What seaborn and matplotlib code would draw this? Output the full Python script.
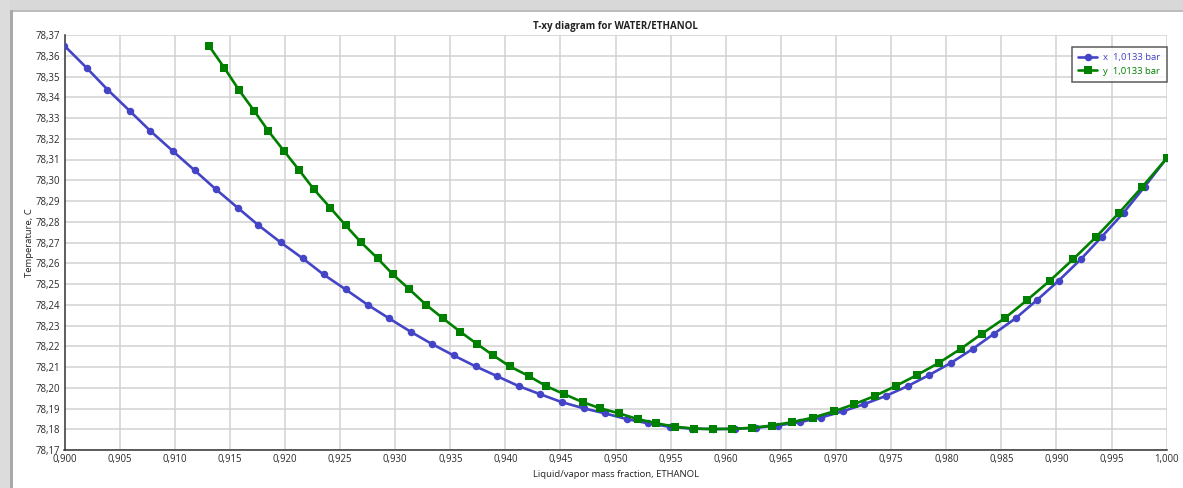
import numpy as np
import pandas as pd
import matplotlib
matplotlib.use("Agg")
import matplotlib.pyplot as plt
from matplotlib.ticker import FuncFormatter, MultipleLocator
from matplotlib.patches import Rectangle
import seaborn as sns

# Liquid mass fraction of ethanol (52 evenly spaced points)
x_liquid = [0.9000, 0.9020, 0.9039, 0.9059, 0.9078, 0.9098, 0.9118, 0.9137, 0.9157, 0.9176,
            0.9196, 0.9216, 0.9235, 0.9255, 0.9275, 0.9294, 0.9314, 0.9333, 0.9353, 0.9373,
            0.9392, 0.9412, 0.9431, 0.9451, 0.9471, 0.9490, 0.9510, 0.9529, 0.9549, 0.9569,
            0.9588, 0.9608, 0.9627, 0.9647, 0.9667, 0.9686, 0.9706, 0.9725, 0.9745, 0.9765,
            0.9784, 0.9804, 0.9824, 0.9843, 0.9863, 0.9882, 0.9902, 0.9922, 0.9941, 0.9961,
            0.9980, 1.0000]

# Vapor mass fraction of ethanol in equilibrium
y_vapor = [0.9131, 0.9145, 0.9158, 0.9172, 0.9185, 0.9199, 0.9213, 0.9226, 0.9241, 0.9255,
           0.9269, 0.9284, 0.9298, 0.9313, 0.9328, 0.9343, 0.9359, 0.9374, 0.9389, 0.9404,
           0.9421, 0.9437, 0.9453, 0.9470, 0.9486, 0.9503, 0.9520, 0.9537, 0.9554, 0.9571,
           0.9588, 0.9606, 0.9624, 0.9642, 0.9660, 0.9679, 0.9698, 0.9716, 0.9735, 0.9754,
           0.9773, 0.9793, 0.9813, 0.9832, 0.9853, 0.9873, 0.9894, 0.9915, 0.9936, 0.9957,
           0.9978, 1.0000]

# Equilibrium temperature, C
temperature = [78.3648, 78.3542, 78.3437, 78.3335, 78.3237, 78.3142, 78.3048, 78.2958, 78.2868, 78.2783,
               78.2701, 78.2624, 78.2546, 78.2474, 78.2400, 78.2336, 78.2270, 78.2212, 78.2156, 78.2103,
               78.2057, 78.2008, 78.1970, 78.1931, 78.1901, 78.1877, 78.1849, 78.1829, 78.1812, 78.1803,
               78.1801, 78.1802, 78.1807, 78.1818, 78.1834, 78.1856, 78.1886, 78.1920, 78.1960, 78.2008,
               78.2060, 78.2119, 78.2187, 78.2259, 78.2335, 78.2421, 78.2516, 78.2619, 78.2727, 78.2844,
               78.2969, 78.3106]

series_labels = ["x  1,0133 bar", "y  1,0133 bar"]

BLUE = "#4444C6"
GREEN = "#008000"

sns.set_style("white")
plt.rcParams["font.family"] = ["Open Sans", "DejaVu Sans"]

W, H = 1183, 488
fig = plt.figure(figsize=(W / 100, H / 100), dpi=100)
fig.patch.set_facecolor("white")

# Window frame around the plot area
fig.patches.append(Rectangle((0, 1 - 10 / H), 1, 10 / H, transform=fig.transFigure,
                             facecolor="#d8d8d8", edgecolor="none", zorder=0))
fig.patches.append(Rectangle((0, 1 - 11.5 / H), 1, 1.5 / H, transform=fig.transFigure,
                             facecolor="#bdbdbd", edgecolor="none", zorder=0))
fig.patches.append(Rectangle((0, 0), 10 / W, 1, transform=fig.transFigure,
                             facecolor="#dcdcdc", edgecolor="none", zorder=0))
fig.patches.append(Rectangle((10 / W, 0), 2.5 / W, 1 - 10 / H, transform=fig.transFigure,
                             facecolor="#a9a9a9", edgecolor="none", zorder=0))

left, right, top, bottom = 64.5, 1166.7, 35, 450
ax = fig.add_axes([left / W, 1 - bottom / H, (right - left) / W, (bottom - top) / H])

liq = pd.DataFrame({"frac": x_liquid, "T": temperature})
vap = pd.DataFrame({"frac": y_vapor, "T": temperature})

sns.lineplot(data=liq, x="frac", y="T", ax=ax, color=BLUE, linewidth=1.9,
             marker="o", markersize=5.4, markeredgecolor=BLUE, markeredgewidth=0,
             sort=False, label=series_labels[0], zorder=3)
sns.lineplot(data=vap, x="frac", y="T", ax=ax, color=GREEN, linewidth=1.9,
             marker="s", markersize=5.4, markeredgecolor=GREEN, markeredgewidth=0,
             sort=False, label=series_labels[1], zorder=4)

ax.set_xlim(0.9, 1.0)
ax.set_ylim(78.17, 78.37)
ax.xaxis.set_major_locator(MultipleLocator(0.005))
ax.yaxis.set_major_locator(MultipleLocator(0.01))
ax.xaxis.set_major_formatter(FuncFormatter(lambda v, p: f"{v:.3f}".replace(".", ",")))
ax.yaxis.set_major_formatter(FuncFormatter(lambda v, p: f"{v:.2f}".replace(".", ",")))

ax.grid(True, color="#d2d2d2", linewidth=1.1, zorder=0)
ax.set_axisbelow(True)
for s in ["top", "right"]:
    ax.spines[s].set_visible(False)
for s in ["left", "bottom"]:
    ax.spines[s].set_color("#333333")
    ax.spines[s].set_linewidth(1.1)

ax.tick_params(axis="x", direction="in", length=4, width=1, color="#333333",
               labelsize=6.9, labelcolor="#2a2a2a", pad=3)
ax.tick_params(axis="y", direction="in", length=2.4, width=1, color="#333333",
               labelsize=6.9, labelcolor="#2a2a2a", pad=3)

ax.set_xlabel("Liquid/vapor mass fraction, ETHANOL", fontsize=6.8, color="#222222")
ax.set_ylabel("Temperature, C", fontsize=6.8, color="#222222")
ax.xaxis.set_label_coords(0.5, -(470 - bottom) / (bottom - top))
ax.xaxis.label.set_va("top")
ax.yaxis.set_label_coords((29 - left) / (right - left), 0.5)
ax.yaxis.label.set_va("center")

ax.set_title("T-xy diagram for WATER/ETHANOL", fontsize=7, fontweight="bold",
             color="#222222", pad=4)

leg = ax.legend(loc="upper right", bbox_to_anchor=(1.0, 1 - 11.7 / (bottom - top)),
                borderaxespad=0, fancybox=False, frameon=True, fontsize=6.8,
                handlelength=2.0, handletextpad=0.6, borderpad=0.7,
                labelspacing=0.45, labelcolor="linecolor")
leg.get_frame().set_edgecolor("#333333")
leg.get_frame().set_linewidth(1.1)

fig.savefig("out.png", dpi=100, facecolor=fig.get_facecolor())
